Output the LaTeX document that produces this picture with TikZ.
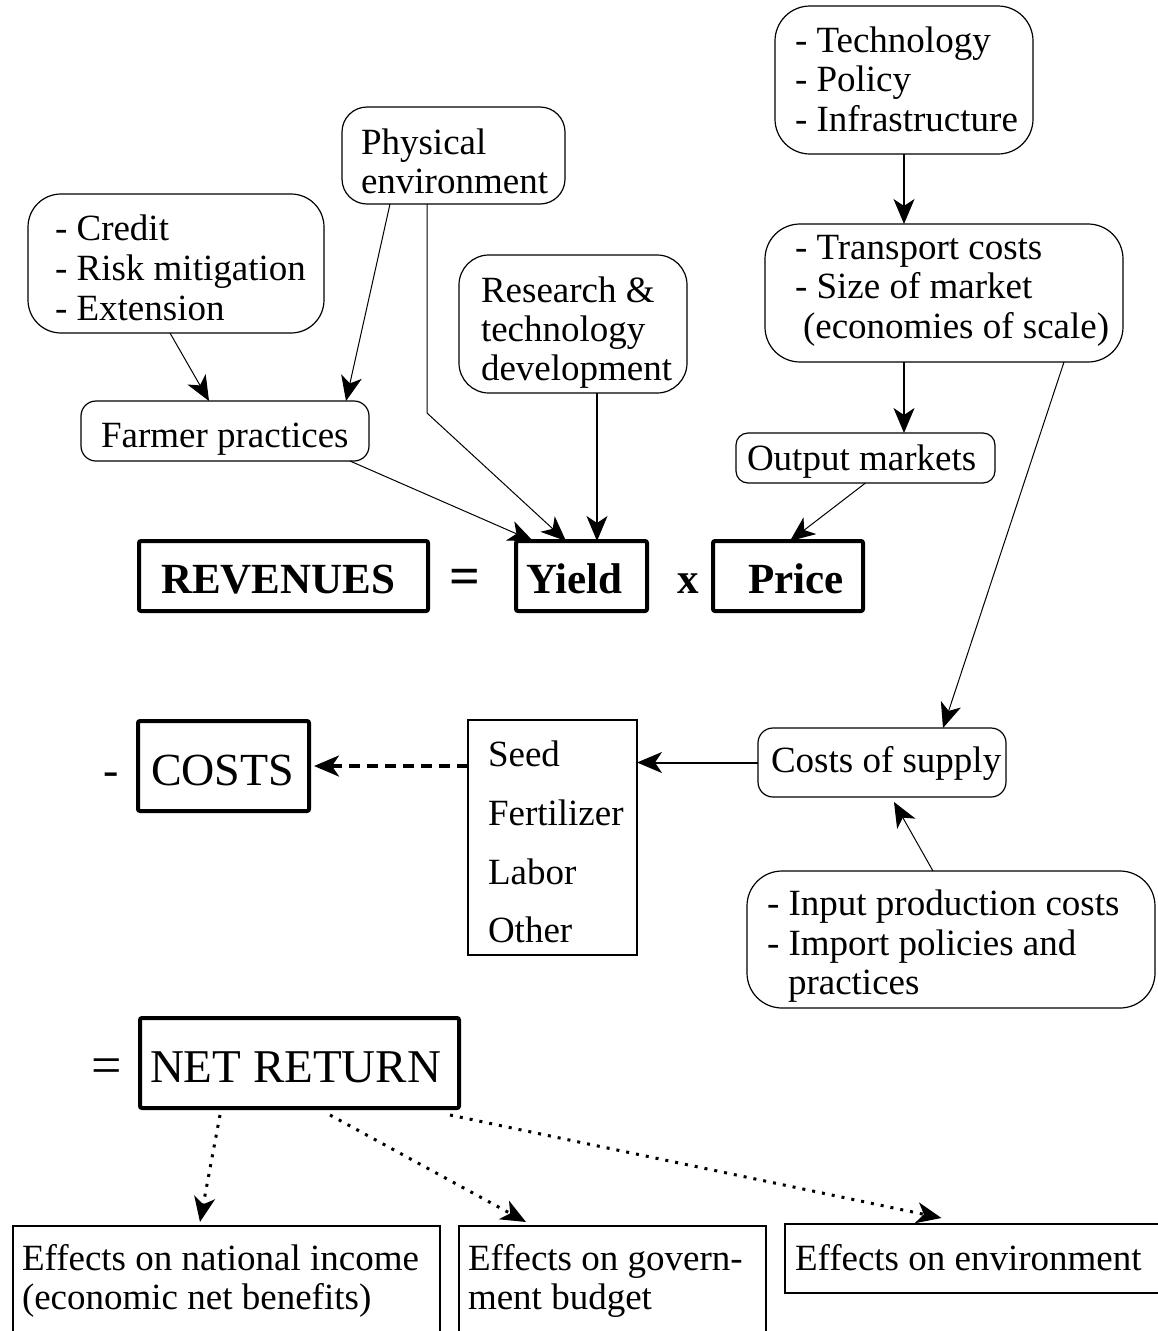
\documentclass[tikz,border=0pt]{standalone}
\usepackage{fontspec}
\setmainfont{Liberation Serif}
\usetikzlibrary{arrows.meta,fit}
\begin{document}
\begin{tikzpicture}[x=1pt,y=-1pt,
  box/.style={draw, line width=1.2pt, inner sep=0pt, outer sep=0pt},
  rbox/.style={box, rounded corners=#1}, rbox/.default=33pt,
  heavy/.style={draw, line width=4pt, inner sep=0pt, outer sep=0pt, rounded corners=2pt},
  txt/.style={inner sep=0pt, outer sep=0pt, anchor=base west, font=\fontsize{37}{40}\selectfont},
  bigb/.style={txt, font=\fontsize{43}{48}\selectfont\bfseries},
  bigr/.style={txt, font=\fontsize{47}{50}\selectfont},
  arr/.style={-{Stealth[length=25pt,width=21pt,inset=7pt]}, line width=1pt},
  thickarr/.style={arr, line width=2pt},
  dasharr/.style={arr, line width=3.5pt, dash pattern=on 11pt off 7pt},
  dotarr/.style={arr, line width=3pt, dash pattern=on 3pt off 7pt}]
\path[use as bounding box] (0,0) rectangle (1157,1331);

% ---- boxes ----
\node[rbox=33pt, fit={(28,194) (324,333)}] (cred) {};
\node[rbox=25pt, fit={(342,107) (565,204)}] (phys) {};
\node[rbox=30pt, fit={(459,255) (687,393)}] (res) {};
\node[rbox=15pt, fit={(81,401) (369,461)}] (farm) {};
\node[rbox=35pt, fit={(775,6) (1033,154)}] (tech) {};
\node[rbox=35pt, fit={(765,224) (1123,362)}] (trans) {};
\node[rbox=12pt, fit={(736,433) (995,483)}] (out) {};
\node[heavy, fit={(139,541) (428,611)}] (rev) {};
\node[heavy, fit={(516,541) (647,611)}] (yield) {};
\node[heavy, fit={(713,541) (863,611)}] (price) {};
\node[heavy, fit={(138,721) (309,811)}] (costs) {};
\node[box, fit={(468,720) (637,955)}] (seed) {};
\node[rbox=15pt, fit={(758,728) (1006,797)}] (sup) {};
\node[rbox=35pt, fit={(747,871) (1155,1008)}] (inp) {};
\node[heavy, fit={(140,1018) (459,1108)}] (net) {};
\node[box, fit={(13,1226) (440,1340)}] (nat) {};
\node[box, fit={(459,1226) (766,1340)}] (gov) {};
\node[box, fit={(785,1224) (1165,1293)}] (env) {};

% ---- texts ----
\node[txt] (c1) at (55,240) {- Credit};
\node[txt] (c2) at (55,280) {- Risk mitigation};
\node[txt] (c3) at (55,320) {- Extension};
\node[txt] (p1) at (361,154) {Physical};
\node[txt] (p2) at (361,193) {environment};
\node[txt] (r1) at (481,302) {Research \&};
\node[txt] (r2) at (481,341) {technology};
\node[txt] (r3) at (481,380) {development};
\node[txt] (f1) at (101,447) {Farmer practices};
\node[txt] (te1) at (795,52) {- Technology};
\node[txt] (te2) at (795,91) {- Policy};
\node[txt] (te3) at (795,131) {- Infrastructure};
\node[txt] (tr1) at (795,259) {- Transport costs};
\node[txt] (tr2) at (795,298) {- Size of market};
\node[txt] (tr3) at (803,338) {(economies of scale)};
\node[txt] (o1) at (747,470) {Output markets};
\node[bigb] (revT) at (161,593) {REVENUES};
\node[txt, font=\fontsize{54}{56}\selectfont\bfseries] (eq1) at (449,594) {=};
\node[bigb] (yieldT) at (526,593) {Yield};
\node[bigb] (xT) at (677,593) {x};
\node[bigb] (priceT) at (748,593) {Price};
\node[bigr, font=\fontsize{46}{50}\selectfont] (minusT) at (103,785) {-};
\node[bigr, font=\fontsize{46}{50}\selectfont] (costsT) at (151,785) {COSTS};
\node[txt] (s1) at (488,766) {Seed};
\node[txt] (s2) at (488,825) {Fertilizer};
\node[txt] (s3) at (488,884) {Labor};
\node[txt] (s4) at (488,942) {Other};
\node[txt] (su1) at (771,772) {Costs of supply};
\node[txt] (i1) at (767,915) {- Input production costs};
\node[txt] (i2) at (767,955) {- Import policies and};
\node[txt] (i3) at (788,994) {practices};
\node[bigr, font=\fontsize{54}{56}\selectfont] (eq2) at (91,1083) {=};
\node[bigr] (netT) at (150,1082) {NET RETURN};
\node[txt] (n1) at (22,1270) {Effects on national income};
\node[txt] (n2) at (22,1309) {(economic net benefits)};
\node[txt] (g1) at (468,1270) {Effects on govern-};
\node[txt] (g2) at (468,1309) {ment budget};
\node[txt] (e1) at (795,1270) {Effects on environment};

% ---- connectors ----
\coordinate (bendA) at (427,413);
\draw[arr] ([xshift=-6pt]cred.south) -- ([xshift=-16pt]farm.north);
\draw[arr] ([xshift=-63.5pt]phys.south) -- ([xshift=121pt]farm.north);
\draw[arr] ([xshift=-26.5pt]phys.south) -- (bendA) -- ([xshift=-15.5pt]yield.north);
\draw[arr] ([xshift=125pt]farm.south) -- ([xshift=-48.5pt]yield.north);
\draw[thickarr] ([xshift=24pt]res.south) -- ([xshift=15.5pt]yield.north);
\draw[thickarr] (tech.south) -- ([xshift=-40pt]trans.north);
\draw[thickarr] ([xshift=-40pt]trans.south) -- ([xshift=38.5pt]out.north);
\draw[arr] (out.south) -- ([xshift=2pt]price.north);
\draw[arr] ([xshift=120pt]trans.south) -- ([xshift=61pt]sup.north);
\draw[thickarr] (sup.west) -- (sup.west -| seed.east);
\draw[arr] ([xshift=-18pt]inp.north) -- ([xshift=12pt,yshift=-5pt]sup.south);
\draw[dasharr] (seed.west |- costs.east) -- ([xshift=5pt]costs.east);
\draw[dotarr] ([xshift=-79.5pt,yshift=-7pt]net.south) -- ([xshift=-26.5pt,yshift=4pt]nat.north);
\draw[dotarr] ([xshift=30.5pt,yshift=-7pt]net.south) -- ([xshift=-86.5pt,yshift=4pt]gov.north);
\draw[dotarr] ([xshift=150.5pt,yshift=-7pt]net.south) -- ([xshift=-33.5pt,yshift=6pt]env.north);
\end{tikzpicture}
\end{document}
